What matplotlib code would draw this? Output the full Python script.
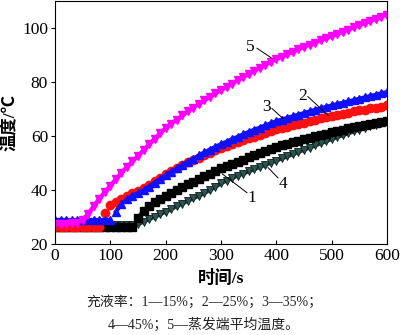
import matplotlib
matplotlib.use("Agg")
import matplotlib.pyplot as plt
import numpy as np

plt.rcParams['font.family'] = ['Liberation Serif', 'Noto Sans CJK SC']
plt.rcParams['mathtext.fontset'] = 'stix'

# time axis, one reading every 10 s
t = np.arange(0, 601, 10)

# 1 - 15 %
s1 = [26.2] * 15 + [29.5, 32.3, 34.0, 35.4, 36.6, 37.8, 38.9, 40.0, 41.1, 42.1,
                    43.1, 44.1, 45.1, 46.1, 47.1, 48.0, 48.9, 49.7, 50.5, 51.3,
                    52.1, 52.9, 53.7, 54.5, 55.2, 55.9, 56.5, 57.1, 57.7, 58.3,
                    58.9, 59.4, 59.9, 60.4, 60.9, 61.4, 61.9, 62.3, 62.8, 63.2,
                    63.7, 64.1, 64.5, 64.9, 65.3, 65.7]
# 2 - 25 %
s2 = [26.3] * 9 + [31.5, 34.5, 35.7, 36.8, 37.9, 38.9, 39.8, 40.9, 42.0, 43.2,
                   44.6, 46.0, 47.1, 48.2, 49.2, 50.2, 51.1, 52.0, 52.9, 53.8,
                   54.7, 55.5, 56.3, 57.0, 57.7, 58.4, 59.1, 59.8, 60.5, 61.2,
                   61.9, 62.5, 63.0, 63.5, 64.0, 64.5, 65.0, 65.5, 66.0, 66.5,
                   67.0, 67.5, 67.9, 68.3, 68.7, 69.1, 69.5, 69.8, 70.2, 70.5,
                   70.9, 71.3]
# 3 - 35 %
s3 = [28.9] * 11 + [32.0, 34.8, 36.6, 37.9, 38.9, 40.0, 41.3, 42.7, 44.1, 45.5,
                    46.8, 48.0, 49.2, 50.4, 51.6, 52.8, 53.9, 55.0, 56.0, 57.0,
                    57.9, 58.8, 59.7, 60.6, 61.5, 62.3, 63.1, 63.9, 64.7, 65.5,
                    66.1, 66.7, 67.3, 67.9, 68.5, 69.1, 69.7, 70.2, 70.8, 71.3,
                    71.8, 72.3, 72.8, 73.3, 73.8, 74.3, 74.8, 75.3, 75.8, 76.3]
# 4 - 45 %
s4 = [27.0] * 15 + [27.3, 28.3, 29.2, 30.1, 31.0, 32.0, 33.0, 34.0, 35.0, 36.0,
                    37.0, 37.9, 38.9, 40.0, 41.2, 42.5, 43.5, 44.5, 45.3, 46.1,
                    46.9, 47.7, 48.5, 49.3, 50.1, 50.9, 51.7, 52.5, 53.3, 54.1,
                    54.9, 55.7, 56.5, 57.3, 58.1, 58.9, 59.6, 60.3, 61.0, 61.7,
                    62.4, 63.0, 63.6, 64.2, 64.8, 65.4]
# 5 - evaporator mean temperature
s5 = [27.5, 27.5, 27.5, 27.6, 27.9, 29.0, 31.3, 34.0, 36.8, 39.3,
      41.6, 44.0, 46.4, 48.6, 50.6, 52.6, 54.8, 56.9, 59.0, 61.0,
      63.0, 64.6, 66.1, 67.6, 69.1, 70.5, 71.9, 73.2, 74.5, 75.8,
      77.0, 78.2, 79.4, 80.6, 81.8, 83.0, 84.1, 85.2, 86.3, 87.4,
      88.5, 89.4, 90.3, 91.2, 92.1, 93.0, 93.8, 94.6, 95.4, 96.2,
      97.0, 97.8, 98.6, 99.4, 100.2, 101.0, 101.8, 102.6, 103.4, 104.2, 105.0]

xticks = [0, 100, 200, 300, 400, 500, 600]
yticks = [20, 40, 60, 80, 100]

fig = plt.figure(figsize=(4.0, 3.35), dpi=100)
ax = fig.add_axes([0.1375, 0.2716, 0.83, 0.7254])


def draw(y, breaks, **kw):
    # draw a series as separate pieces where the record jumps
    y = np.asarray(y)
    edges = [0] + breaks + [len(t)]
    for a, b in zip(edges[:-1], edges[1:]):
        ax.plot(t[a:b], y[a:b], linestyle='-', lw=3, **kw)


draw(s4, [], color='#1f3d3a', marker='v', ms=6, mfc='#2d5550', mec='#0c1c1c', mew=0.6)
draw(s1, [15], color='black', marker='s', ms=5.5)
draw(s2, [9, 10], color='#ff1010', marker='o', ms=6)
draw(s3, [11], color='#1010ff', marker='^', ms=6)
draw(s5, [], color='#ff00ff', marker='v', ms=6)

ax.set_xlim(0, 600)
ax.set_ylim(20, 110)
ax.set_xticks(xticks)
ax.set_yticks(yticks)
ax.tick_params(axis='x', direction='in', length=3, labelsize=12.5, pad=3)
ax.tick_params(axis='y', direction='out', length=3, labelsize=12.5, pad=2)

ax.set_xlabel('时间/s', fontsize=12.5, fontweight='bold', labelpad=4)
ax.set_ylabel('温度/℃', fontsize=12.5, fontweight='bold', labelpad=2)

# curve labels with leader lines
labels = [('5', 353, 92.9, 365, 92.5, 392, 88.8),
          ('3', 383, 70.6, 392, 70.2, 412, 66.5),
          ('2', 448, 75.0, 457, 74.6, 494, 67.6),
          ('1', 356, 37.1, 347, 39.0, 302, 46.0),
          ('4', 412, 42.3, 403, 44.5, 385, 48.3)]
for txt, tx, ty, x0, y0, x1, y1 in labels:
    ax.plot([x0, x1], [y0, y1], color='black', lw=0.7)
    ax.text(tx, ty, txt, fontsize=12.5, ha='center', va='center')

fig.text(86 / 400, 1 - 302 / 335, '充液率：1—15%；2—25%；3—35%；',
         fontsize=10, ha='left', va='center', color='#222222')
fig.text(108 / 400, 1 - 325 / 335, '4—45%；5—蒸发端平均温度。',
         fontsize=10, ha='left', va='center', color='#222222')

fig.savefig('out.png', dpi=100)
